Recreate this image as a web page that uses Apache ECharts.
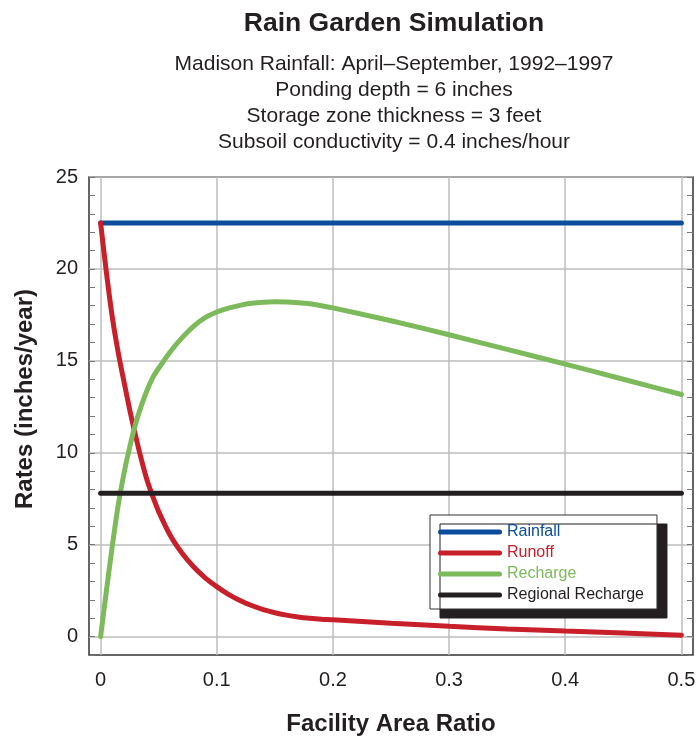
<!DOCTYPE html>
<html>
<head>
<meta charset="utf-8">
<title>Rain Garden Simulation</title>
<script src="https://cdn.jsdelivr.net/npm/echarts@6/dist/echarts.min.js"></script>
<style>
	html,body{margin:0;padding:0;background:#fff;}
	#chart{width:697px;height:738px;}
</style>
</head>
<body>
<div id="chart"></div>
<script>
	// facility area ratio (x) for the two simulated curves
	var ratio = [0, 0.005, 0.01, 0.015, 0.02, 0.025, 0.03, 0.035, 0.04, 0.045, 0.05,
		0.06, 0.07, 0.08, 0.09, 0.1, 0.11, 0.12, 0.13, 0.14, 0.15, 0.16, 0.17, 0.18, 0.19, 0.2,
		0.25, 0.3, 0.35, 0.4, 0.45, 0.5];
	var runoff = [22.5, 19.8, 17.4, 15.5, 13.9, 12.35, 10.95, 9.65, 8.5, 7.6, 6.8,
		5.5, 4.55, 3.8, 3.2, 2.72, 2.3, 1.97, 1.69, 1.47, 1.3, 1.17, 1.07, 1.0, 0.95, 0.92,
		0.73, 0.56, 0.42, 0.3, 0.19, 0.08];
	var recharge = [0, 2.5, 4.9, 7.1, 8.85, 10.3, 11.55, 12.55, 13.4, 14.1, 14.6,
		15.5, 16.25, 16.88, 17.35, 17.66, 17.87, 18.02, 18.13, 18.19, 18.21, 18.2, 18.16, 18.1, 18.0, 17.88,
		17.18, 16.42, 15.62, 14.82, 14.0, 13.17];
	// flat reference lines
	var flatRatio = [0, 0.5];
	var rainfall = [22.5, 22.5];
	var regionalRecharge = [7.8, 7.8];

	var seriesNames = ['Rainfall', 'Runoff', 'Recharge', 'Regional Recharge'];
	var seriesColors = ['#0b4c9b', '#c8202b', '#7dba5b', '#231f20'];

	function pairs(xs, ys) {
		return xs.map(function (x, i) { return [x, ys[i]]; });
	}

	var font = "'Liberation Sans', Arial, Helvetica, sans-serif";
	var gridGrey = '#bdbdbd';
	var tickStyle = { show: true, inside: true, length: 6, lineStyle: { color: '#777', width: 1 } };
	var capsule = 'path://M2.5,0 H61.5 A2.5,2.5 0 0 1 61.5,5 H2.5 A2.5,2.5 0 0 1 2.5,0 Z';

	var myChart = echarts.init(document.getElementById('chart'));
	var option = {
		animation: false,
		textStyle: { fontFamily: font },
		title: {
			text: 'Rain Garden Simulation',
			subtext: 'Madison Rainfall: April\u2013September, 1992\u20131997\nPonding depth = 6 inches\nStorage zone thickness = 3 feet\nSubsoil conductivity = 0.4 inches/hour',
			left: 394,
			top: 9,
			padding: 0,
			textAlign: 'center',
			itemGap: 13,
			textStyle: { fontFamily: font, fontSize: 26.5, fontWeight: 'bold', color: '#231f20', lineHeight: 29 },
			subtextStyle: { fontFamily: font, fontSize: 21, color: '#231f20', lineHeight: 26 }
		},
		legend: {
			orient: 'vertical',
			left: 430,
			top: 515,
			backgroundColor: '#fff',
			borderColor: '#333',
			borderWidth: 1,
			borderRadius: 0,
			shadowColor: '#231f20',
			shadowBlur: 0,
			shadowOffsetX: 10,
			shadowOffsetY: 9,
			padding: [8, 13, 5, 8],
			itemWidth: 64,
			itemHeight: 5,
			itemGap: 3,
			icon: capsule,
			textStyle: { fontFamily: font, fontSize: 16, lineHeight: 18 },
			data: seriesNames.map(function (n, i) {
				return { name: n, textStyle: { color: seriesColors[i] } };
			})
		},
		grid: {
			left: 89,
			right: 4,
			top: 177,
			bottom: 83,
			outerBoundsMode: 'none',
			show: true,
			borderColor: '#333',
			borderWidth: 1.5
		},
		xAxis: {
			type: 'value',
			min: -0.01,
			max: 0.51,
			interval: 0.01,
			name: 'Facility Area Ratio',
			nameLocation: 'middle',
			nameGap: 57,
			nameTextStyle: { fontFamily: font, fontSize: 24, fontWeight: 'bold', color: '#231f20' },
			axisLine: { show: false, onZero: false },
			axisTick: { show: false },
			axisLabel: {
				margin: 15,
				fontSize: 20,
				color: '#231f20',
				formatter: function (v) {
					if (v < 0 || Math.abs(v * 10 - Math.round(v * 10)) > 1e-6) return '';
					return v === 0 ? '0' : v.toFixed(1);
				}
			},
			splitLine: {
				show: true,
				lineStyle: {
					width: 1.5,
					color: ['transparent', gridGrey, 'transparent', 'transparent', 'transparent',
						'transparent', 'transparent', 'transparent', 'transparent', 'transparent']
				}
			}
		},
		yAxis: [{
			type: 'value',
			min: -1,
			max: 25,
			interval: 1,
			name: 'Rates (inches/year)',
			nameLocation: 'middle',
			nameGap: 52,
			nameTextStyle: { fontFamily: font, fontSize: 24, fontWeight: 'bold', color: '#231f20', padding: [0, 0, 0, 34] },
			axisLine: { show: false, onZero: false },
			axisTick: tickStyle,
			axisLabel: {
				margin: 11,
				fontSize: 20,
				color: '#231f20',
				formatter: function (v) { return v >= 0 && v % 5 === 0 ? String(v) : ''; }
			},
			splitLine: {
				show: true,
				lineStyle: {
					width: 1.5,
					color: ['transparent', gridGrey, 'transparent', 'transparent', 'transparent']
				}
			}
		}, {
			type: 'value',
			position: 'right',
			min: -1,
			max: 25,
			interval: 1,
			axisLine: { show: false, onZero: false },
			axisTick: tickStyle,
			axisLabel: { show: false },
			splitLine: { show: false }
		}],
		series: [
			{
				name: 'Rainfall',
				type: 'line',
				symbol: 'none',
				lineStyle: { width: 5, color: seriesColors[0], cap: 'round' },
				itemStyle: { color: seriesColors[0] },
				data: pairs(flatRatio, rainfall)
			},
			{
				name: 'Runoff',
				type: 'line',
				symbol: 'none',
				smooth: 0.3,
				lineStyle: { width: 5, color: seriesColors[1], cap: 'round' },
				itemStyle: { color: seriesColors[1] },
				data: pairs(ratio, runoff)
			},
			{
				name: 'Recharge',
				type: 'line',
				symbol: 'none',
				smooth: 0.3,
				lineStyle: { width: 5, color: seriesColors[2], cap: 'round' },
				itemStyle: { color: seriesColors[2] },
				data: pairs(ratio, recharge)
			},
			{
				name: 'Regional Recharge',
				type: 'line',
				symbol: 'none',
				lineStyle: { width: 5, color: seriesColors[3], cap: 'round' },
				itemStyle: { color: seriesColors[3] },
				data: pairs(flatRatio, regionalRecharge)
			}
		]
	};
	myChart.setOption(option);
</script>
</body>
</html>
